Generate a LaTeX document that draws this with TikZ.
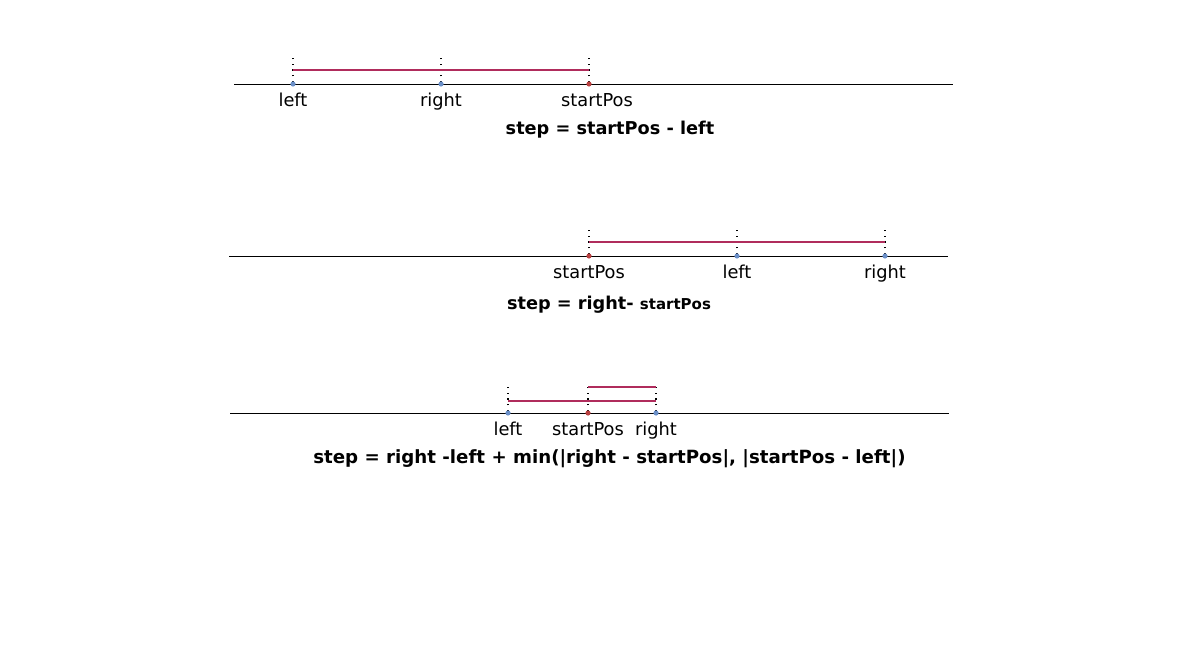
\documentclass[tikz,border=0pt]{standalone}
\usepackage{fontspec}
\setmainfont{DejaVu Sans}

\definecolor{segcol}{RGB}{176,44,92}
\definecolor{ptblue}{RGB}{106,143,200}
\definecolor{ptred}{RGB}{184,64,64}

\begin{document}
\begin{tikzpicture}[x=1pt, y=-1pt,
        label/.style = {anchor=base, inner sep=0pt, font=\fontsize{17.8}{20}\selectfont},
        formula/.style = {anchor=base, inner sep=0pt, font=\fontsize{17.7}{20}\selectfont\bfseries},
        axis/.style = {line width=0.9pt},
        segment/.style = {segcol, line width=1.6pt},
        guide/.style = {line width=1.3pt, dash pattern=on 1.3pt off 4.4pt},
        bluept/.style = {fill=ptblue},
        redpt/.style = {fill=ptred}
    ]
        % рамка
        \useasboundingbox (0, 0) rectangle (1178, 660);

        % первая строка
        \def \La { 293 };
        \def \Ra { 441 };
        \def \Sa { 589 };

        \coordinate (axA1) at ( 234, 84 );
        \coordinate (axA2) at ( 953, 84 );
        \coordinate (leftA) at ( \La, 84 );
        \coordinate (rightA) at ( \Ra, 84 );
        \coordinate (startA) at ( \Sa, 84 );

        \draw [axis] (axA1) -- (axA2);
        \foreach \p in {leftA, rightA, startA}
            \draw [guide] (\p) ++ (0, -2) -- ++ (0, -26);
        \draw [segment] ( \La, 70 ) -- ( \Sa, 70 );
        \fill [bluept] (leftA) circle [radius = 2.6];
        \fill [bluept] (rightA) circle [radius = 2.6];
        \fill [redpt] (startA) circle [radius = 2.6];

        \node [label] (lblLeftA) at ( \La, 107 ) {left};
        \node [label] (lblRightA) at ( \Ra, 107 ) {right};
        \node [label] (lblStartA) at ( \Sa + 8, 107 ) {startPos};
        \node [formula] (stepA) at ( 610, 135 ) {step = startPos - left};

        % вторая строка
        \def \Sb { 589 };
        \def \Lb { 737 };
        \def \Rb { 885 };

        \coordinate (axB1) at ( 229, 256 );
        \coordinate (axB2) at ( 948, 256 );
        \coordinate (startB) at ( \Sb, 256 );
        \coordinate (leftB) at ( \Lb, 256 );
        \coordinate (rightB) at ( \Rb, 256 );

        \draw [axis] (axB1) -- (axB2);
        \foreach \p in {startB, leftB, rightB}
            \draw [guide] (\p) ++ (0, -2) -- ++ (0, -26);
        \draw [segment] ( \Sb, 242 ) -- ( \Rb, 242 );
        \fill [redpt] (startB) circle [radius = 2.6];
        \fill [bluept] (leftB) circle [radius = 2.6];
        \fill [bluept] (rightB) circle [radius = 2.6];

        \node [label] (lblStartB) at ( \Sb, 279 ) {startPos};
        \node [label] (lblLeftB) at ( \Lb, 279 ) {left};
        \node [label] (lblRightB) at ( \Rb, 279 ) {right};
        \node [formula] (stepB) at ( 609, 310 ) {step = right- {\fontsize{15}{17}\selectfont startPos}};

        % третья строка
        \def \Lc { 508 };
        \def \Sc { 588 };
        \def \Rc { 656 };

        \coordinate (axC1) at ( 230, 413 );
        \coordinate (axC2) at ( 949, 413 );
        \coordinate (leftC) at ( \Lc, 413 );
        \coordinate (startC) at ( \Sc, 413 );
        \coordinate (rightC) at ( \Rc, 413 );

        \draw [axis] (axC1) -- (axC2);
        \draw [guide] (leftC) ++ (0, -2) -- ++ (0, -24);
        \draw [guide] (startC) ++ (0, -2) -- ++ (0, -26);
        \draw [guide] (rightC) ++ (0, -2) -- ++ (0, -26);
        \draw [segment] ( \Lc, 401 ) -- ( \Rc, 401 );
        \draw [segment] ( \Sc, 387 ) -- ( \Rc, 387 );
        \fill [bluept] (leftC) circle [radius = 2.6];
        \fill [redpt] (startC) circle [radius = 2.6];
        \fill [bluept] (rightC) circle [radius = 2.6];

        \node [label] (lblLeftC) at ( \Lc, 435 ) {left};
        \node [label] (lblStartC) at ( \Sc, 435 ) {startPos};
        \node [label] (lblRightC) at ( \Rc, 435 ) {right};
        \node [formula, font=\fontsize{18.2}{20}\selectfont\bfseries] (stepC) at ( 609.5, 463 ) {step = right -left + min(|right - startPos|, |startPos - left|)};
    \end{tikzpicture}
\end{document}
